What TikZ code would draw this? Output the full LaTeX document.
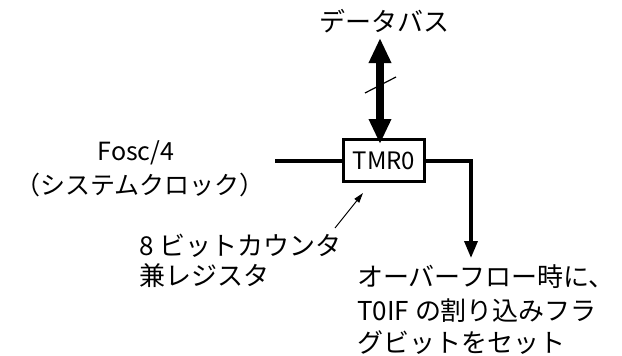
\documentclass[tikz,border=0pt]{standalone}
\usepackage{fontspec}
\setmainfont{Noto Sans CJK JP}
\usetikzlibrary{arrows.meta}
\begin{document}
\begin{tikzpicture}[x=1pt,y=-1pt,
  lbl/.style={inner sep=0pt,font=\fontsize{25}{30}\selectfont},
  biglbl/.style={inner sep=0pt,font=\fontsize{26}{30}\selectfont},
  regbox/.style={draw,line width=3pt,minimum width=81pt,minimum height=42pt,inner sep=0pt,font=\fontsize{24}{28}\selectfont},
  busline/.style={line width=8pt,{Triangle[width=21pt,length=25pt]}-{Triangle[width=21pt,length=25pt]}},
  sigline/.style={line width=3.5pt},
  outarrow/.style={line width=3.5pt,-{Triangle[width=13pt,length=17pt]}},
  thinarrow/.style={line width=1pt,-{Triangle[width=6pt,length=10pt]}}]
\useasboundingbox (0,0) rectangle (622,356);
% register box
\node[regbox] (tmr) at (384,160.5) {TMR0};
% data bus
\node[biglbl,anchor=base] (bus) at (384,31) {データバス};
\coordinate (busA) at (380,38);
\draw[busline] (busA) -- ([xshift=-4pt,yshift=-6pt]tmr.north);
\coordinate (slashA) at (365,93);
\coordinate (slashB) at (396,77);
\draw[line width=1.2pt] (slashA) -- (slashB);
% clock input
\node[lbl,anchor=base] (fosc) at (136,160) {Fosc/4};
\node[lbl,anchor=base] (sysclk) at (140,194) {（システムクロック）};
\coordinate (inA) at (275,161);
\draw[sigline] (inA) -- (tmr.west |- inA);
% output
\coordinate (outC) at (471,161);
\coordinate (outD) at (471,258);
\draw[outarrow] (tmr.east |- outC) -- (outC) -- (outD);
\node[biglbl,anchor=base west] (ov1) at (357,286) {オーバーフロー時に、};
\node[biglbl,anchor=base west] (ov2) at (357,320) {T0IF の割り込みフラ};
\node[biglbl,anchor=base west] (ov3) at (357,352) {グビットをセット};
% counter label
\node[biglbl,anchor=base west] (cnt1) at (139,255) {8 ビットカウンタ};
\node[biglbl,anchor=base west] (cnt2) at (139,285) {兼レジスタ};
\coordinate (cntA) at (335,228);
\draw[thinarrow] (cntA) -- (363,193);
\end{tikzpicture}
\end{document}
